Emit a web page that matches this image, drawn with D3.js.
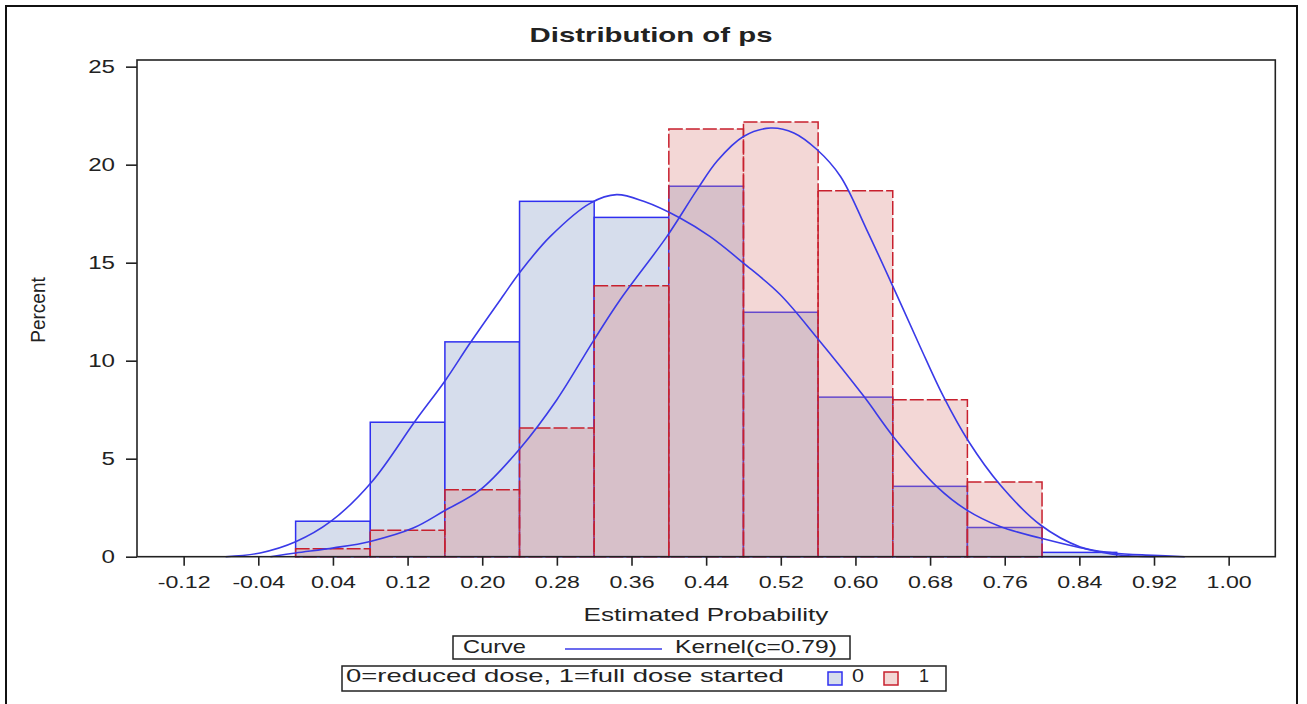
<!DOCTYPE html>
<html>
<head>
<meta charset="utf-8">
<script src="https://cdn.jsdelivr.net/npm/d3@7"></script>
<style>
  body { margin: 0; background: #fff; }
  text { font-family: "Liberation Sans", Arial, sans-serif; fill: #222; }
</style>
</head>
<body>
<script>
// histogram bins (midpoints), width 0.08
var binMids = [0.04, 0.12, 0.20, 0.28, 0.36, 0.44, 0.52, 0.60, 0.68, 0.76, 0.84];
var binWidth = 0.08;
// percent per bin, 0=reduced dose, 1=full dose started
var pct0 = [1.81, 6.86, 10.96, 18.13, 17.31, 18.90, 12.47, 8.14, 3.59, 1.49, 0.22];
var pct1 = [0.40, 1.35, 3.42, 6.56, 13.82, 21.82, 22.18, 18.67, 8.01, 3.81, 0];

// kernel curves
var kernX0 = [-0.075, -0.038, 0.0, 0.038, 0.082, 0.128, 0.161, 0.187, 0.223, 0.241, 0.273, 0.316, 0.344,
              0.373, 0.412, 0.444, 0.480, 0.519, 0.559, 0.609, 0.641, 0.687, 0.719, 0.755, 0.798, 0.841, 0.880, 0.920];
var kernY0 = [0, 0.19, 0.76, 1.81, 3.84, 6.91, 9.03, 10.9, 13.35, 14.55, 16.34, 18.04, 18.47,
              18.13, 17.28, 16.34, 14.98, 13.39, 11.16, 8.18, 6.1, 3.59, 2.39, 1.54, 0.95, 0.46, 0.1, 0];
var kernX1 = [-0.027, 0.0, 0.041, 0.080, 0.126, 0.159, 0.198, 0.241, 0.280, 0.319, 0.348, 0.398, 0.430, 0.452, 0.480,
              0.509, 0.534, 0.559, 0.584, 0.612, 0.641, 0.669, 0.694, 0.721, 0.755, 0.798, 0.841, 0.876, 0.919, 0.953];
var kernY1 = [0, 0.19, 0.45, 0.78, 1.46, 2.33, 3.42, 5.55, 8.01, 11.0, 13.12, 16.34, 18.7, 20.2, 21.44,
              21.87, 21.62, 20.76, 19.4, 16.69, 13.7, 10.75, 8.2, 5.9, 3.67, 1.63, 0.5, 0.19, 0.07, 0];

var xTicks = [-0.12, -0.04, 0.04, 0.12, 0.20, 0.28, 0.36, 0.44, 0.52, 0.60, 0.68, 0.76, 0.84, 0.92, 1.00];
var yTicks = [0, 5, 10, 15, 20, 25];

var w = 1307, h = 704;
var plotL = 137, plotR = 1275.3, plotT = 60, plotB = 556.7;

var svg = d3.select('body').append('svg')
  .attr('width', w)
  .attr('height', h);

// outer frame
svg.append('rect')
  .attr('x', 6).attr('y', 6)
  .attr('width', 1291).attr('height', 740)
  .attr('fill', 'none').attr('stroke', '#111').attr('stroke-width', 2);

var x = d3.scaleLinear().domain([-0.17, 1.05]).range([plotL, plotR]);
var y = d3.scaleLinear().domain([0, 25.34]).range([plotB, plotT]);

// stretch text horizontally to a given width
function fit(sel, width) {
  var len = sel.node().getComputedTextLength();
  var t = sel.attr('transform') || '';
  sel.attr('transform', t + ' scale(' + (width / len) + ',1)');
  return sel;
}

var bins0 = binMids.map(function(m, i) { return {m: m, v: pct0[i]}; });
var bins1 = binMids.map(function(m, i) { return {m: m, v: pct1[i]}; }).filter(function(d) { return d.v > 0; });

svg.selectAll('rect.b0')
  .data(bins0)
  .enter()
  .append('rect')
  .attr('class', 'b0')
  .attr('x', function(d) { return x(d.m - binWidth / 2); })
  .attr('y', function(d) { return y(d.v); })
  .attr('width', function(d) { return x(d.m + binWidth / 2) - x(d.m - binWidth / 2); })
  .attr('height', function(d) { return y(0) - y(d.v); })
  .attr('fill', '#d6ddec')
  .attr('stroke', '#2f2ff0')
  .attr('stroke-width', 1.5);

svg.selectAll('rect.b1')
  .data(bins1)
  .enter()
  .append('rect')
  .attr('class', 'b1')
  .attr('x', function(d) { return x(d.m - binWidth / 2); })
  .attr('y', function(d) { return y(d.v); })
  .attr('width', function(d) { return x(d.m + binWidth / 2) - x(d.m - binWidth / 2); })
  .attr('height', function(d) { return y(0) - y(d.v); })
  .attr('fill', 'rgba(218,132,126,0.32)')
  .attr('stroke', '#c8202e')
  .attr('stroke-width', 1.5)
  .attr('stroke-dasharray', '14,3');

// kernel curves
var line = d3.line()
  .x(function(d) { return x(d[0]); })
  .y(function(d) { return Math.min(y(d[1]), plotB); })
  .curve(d3.curveCatmullRom.alpha(0.5));

[[kernX0, kernY0], [kernX1, kernY1]].forEach(function(k) {
  var pts = k[0].map(function(v, i) { return [v, k[1][i]]; });
  svg.append('path')
    .datum(pts)
    .attr('d', line)
    .attr('fill', 'none')
    .attr('stroke', '#3a3ae8')
    .attr('stroke-width', 1.6);
});

// plot frame
svg.append('rect')
  .attr('x', plotL).attr('y', plotT)
  .attr('width', plotR - plotL).attr('height', plotB - plotT)
  .attr('fill', 'none').attr('stroke', '#222').attr('stroke-width', 1.6);

// axes
var xAxis = svg.append('g')
  .attr('transform', 'translate(0,' + plotB + ')')
  .call(d3.axisBottom(x).tickValues(xTicks)
    .tickFormat(function(d) { return d3.format('.2f')(d).replace('\u2212', '-'); })
    .tickSize(9).tickPadding(10.5));
xAxis.select('.domain').remove();
xAxis.selectAll('line').attr('stroke', '#222').attr('stroke-width', 1.6);
xAxis.selectAll('text')
  .style('font-size', '16px').attr('fill', '#222')
  .attr('transform', 'scale(1.45,1)');

var yAxis = svg.append('g')
  .attr('transform', 'translate(' + plotL + ',0)')
  .call(d3.axisLeft(y).tickValues(yTicks).tickSize(11).tickPadding(10));
yAxis.select('.domain').remove();
yAxis.selectAll('line').attr('stroke', '#222').attr('stroke-width', 1.6);
yAxis.selectAll('text')
  .style('font-size', '17.5px').attr('fill', '#222')
  .attr('transform', 'scale(1.38,1)').attr('x', -22 / 1.38);

// title
var title = svg.append('text')
  .attr('transform', 'translate(651,42)')
  .attr('text-anchor', 'middle')
  .style('font-size', '20px').style('font-weight', 'bold')
  .attr('fill', '#000')
  .text('Distribution of ps');
fit(title, 243);

// axis labels
var xl = svg.append('text')
  .attr('transform', 'translate(706,621)')
  .attr('text-anchor', 'middle')
  .style('font-size', '19px')
  .text('Estimated Probability');
fit(xl, 245);

svg.append('text')
  .attr('transform', 'translate(45,310) scale(1.1,1) rotate(-90)')
  .attr('text-anchor', 'middle')
  .style('font-size', '19px')
  .text('Percent');

// legend: curve
svg.append('rect')
  .attr('x', 453).attr('y', 636).attr('width', 397).attr('height', 23)
  .attr('fill', '#fff').attr('stroke', '#222').attr('stroke-width', 1.5);
fit(svg.append('text').attr('transform', 'translate(463,653)').style('font-size', '18px').text('Curve'), 63);
svg.append('line')
  .attr('x1', 565).attr('x2', 662).attr('y1', 649).attr('y2', 649)
  .attr('stroke', '#3a3ae8').attr('stroke-width', 1.6);
fit(svg.append('text').attr('transform', 'translate(675,653)').style('font-size', '18px').text('Kernel(c=0.79)'), 162);

// legend: groups
svg.append('rect')
  .attr('x', 342).attr('y', 666).attr('width', 604).attr('height', 25)
  .attr('fill', '#fff').attr('stroke', '#222').attr('stroke-width', 1.5);
fit(svg.append('text').attr('transform', 'translate(346,682)').style('font-size', '18px')
  .text('0=reduced dose, 1=full dose started'), 438);
svg.append('rect')
  .attr('x', 828).attr('y', 672).attr('width', 14).attr('height', 13)
  .attr('fill', '#d6ddec').attr('stroke', '#2f2ff0').attr('stroke-width', 1.5);
fit(svg.append('text').attr('transform', 'translate(852,682)').style('font-size', '18px').text('0'), 12);
svg.append('rect')
  .attr('x', 884).attr('y', 672).attr('width', 14).attr('height', 13)
  .attr('fill', '#f3d8d6').attr('stroke', '#c8202e').attr('stroke-width', 1.5);
fit(svg.append('text').attr('transform', 'translate(919,682)').style('font-size', '18px').text('1'), 10);
</script>
</body>
</html>
